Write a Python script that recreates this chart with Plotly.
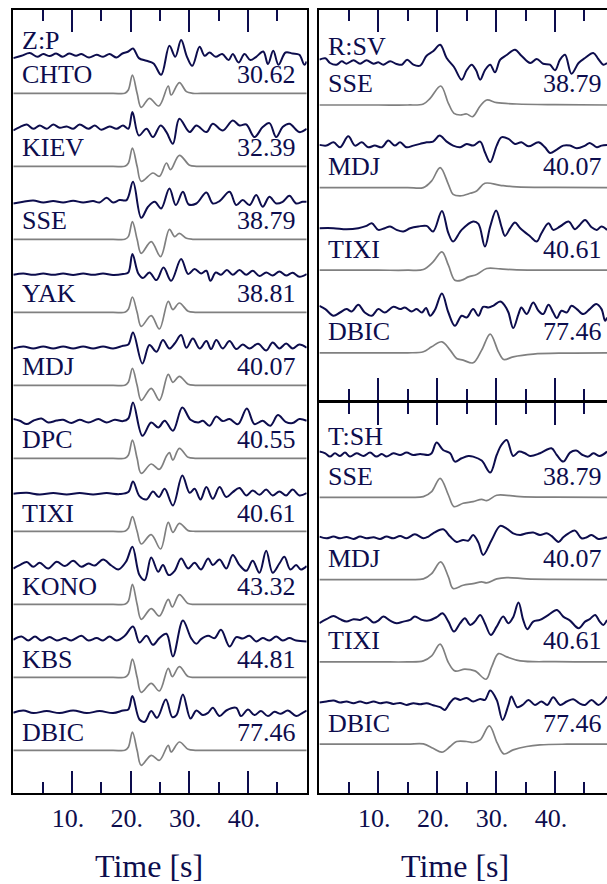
import plotly.graph_objects as go

NAVY = '#0d0d4d'
GRAY = '#808080'
FONT = 'Liberation Serif'

# ---------------- labels ----------------
stations_Z = ["CHTO", "KIEV", "SSE", "YAK", "MDJ", "DPC", "TIXI", "KONO", "KBS", "DBIC"]
dist_Z = ["30.62", "32.39", "38.79", "38.81", "40.07", "40.55", "40.61", "43.32", "44.81", "77.46"]
stations_R = ["SSE", "MDJ", "TIXI", "DBIC"]
dist_R = ["38.79", "40.07", "40.61", "77.46"]
stations_T = ["SSE", "MDJ", "TIXI", "DBIC"]
dist_T = ["38.79", "40.07", "40.61", "77.46"]
tick_vals = [10, 20, 30, 40]
tick_text = ["10.", "20.", "30.", "40."]
minor_vals = [5, 15, 25, 35, 45]

# ---------------- Z:P observed (time s, amplitude) ----------------
Z_CHTO_obs = [(0.0,-2.3),(1.4,0),(2.8,2.7),(4.1,-1),(5.1,1.7),(6.2,-0.3),(7.3,2.3),(8.4,-1),(9.5,2.3),(10.7,0),
              (11.6,1.7),(12.9,-1.7),(14.2,1),(15.3,-1),(16.4,1.7),(17.6,-1.7),(18.6,2.3),(19.6,4.3),(20.4,7.3),(21.4,-2.3),
              (22.7,-5),(23.9,-7.7),(25.2,-19),(26.6,10),(27.6,-1),(28.6,15.7),(29.6,-1),(30.5,-10),(31.75,9),(32.6,0),
              (33.45,3.3),(34.5,-1),(35.6,1.7),(36.7,-4.3),(37.4,1.7),(38.4,-6.7),(39.4,1.7),(40.4,-4.3),(41.4,-1),(42.6,4.3),
              (43.4,-8.3),(44.3,5),(45.2,-9),(46.4,3.3),(47.6,2.3),(48.75,1),(49.6,-9),(50.0,-5.7)]
Z_KIEV_obs = [(0,-1.7),(1.1,1.7),(2.3,4.3),(3.4,0),(4.5,3.3),(5.7,0),(6.8,4.3),(7.9,1),(9.1,2.3),(10.2,0),
              (11.3,4.3),(12.8,0),(13.9,3.3),(15.0,-1),(16.4,2.3),(17.6,0),(18.7,3.3),(19.6,0),(20.3,16.7),(21.4,-6.7),
              (22.7,0),(23.8,-8.3),(25.1,3.3),(26.1,-3.3),(27.2,-15),(28.3,10),(30.05,-3.3),(31.2,3.3),(32.9,-3.3),(34.0,5),
              (35.7,-1.7),(37.4,8.3),(38.55,3.3),(39.7,4.3),(41.1,-8.3),(42.5,1.7),(43.65,5.7),(44.8,-8.3),(45.9,1.7),(47.05,5),
              (48.75,-3.3),(50,0)]
Z_SSE_obs = [(0,-1.7),(1.7,0),(3.4,1.3),(5.1,-0.7),(6.8,0.7),(8.5,-0.7),(10.2,1),(11.9,-0.7),(13.6,0.7),(14.7,-0.7),
             (15.9,4),(17.0,-0.7),(18.1,1.7),(19.3,1.7),(20.4,20),(21.8,-16),(22.96,-5),(24.1,0),(25.2,-6.7),(26.6,13.3),
             (27.7,-3.3),(28.9,10),(29.9,-2.7),(31.2,-1.7),(32.9,9.3),(34.0,-1.7),(35.15,0.7),(36.85,10),(38.0,-3.3),(39.1,1.7),
             (40.25,-3.3),(41.4,6.7),(42.5,-5),(43.65,5),(44.8,-1.7),(45.9,0),(47.05,6),(48.2,-1.7),(49.3,0),(50,0)]
Z_YAK_obs = [(0,0),(1.7,1.3),(3.4,0),(5.1,1.3),(6.8,0),(8.5,1.3),(10.2,-0.3),(11.9,1.3),(13.6,0),(15.3,1.3),
             (17.0,-0.3),(18.7,0.7),(19.6,2.3),(20.3,20.7),(21.3,1.3),(22.1,-3.3),(23.2,2.3),(24.4,-5.3),(25.6,7.3),(26.9,-6),
             (28.6,15.7),(29.8,0.7),(30.9,5.7),(32.0,1.3),(32.9,4),(33.6,-6),(34.5,2.3),(35.4,0),(36.4,4.7),(37.4,0),
             (38.55,4.7),(39.7,0),(40.8,4),(41.95,-1.3),(43.1,2.3),(44.2,-0.7),(45.35,3.3),(46.5,-0.7),(47.6,2),(48.75,-2),(50,0.7)]
Z_MDJ_obs = [(0,-0.7),(1.7,1.3),(3.4,-0.7),(5.1,1.3),(6.8,-0.7),(8.5,1.3),(10.2,-0.7),(11.9,1.3),(13.6,-0.7),(15.3,1.3),
             (17.0,-0.7),(18.7,2),(19.6,3.3),(20.4,15.3),(22.0,-15.7),(23.2,2.7),(24.4,-4),(25.5,7.7),(26.6,-0.7),(27.5,4.3),
             (28.6,12.7),(29.5,0),(30.6,9.3),(31.75,-0.7),(32.9,6.7),(33.7,-1.3),(34.6,7.7),(35.7,-0.7),(36.85,6.7),(38.0,-1.3),
             (39.1,3.3),(40.25,-0.7),(41.7,4),(43.1,-2.7),(44.2,5.3),(45.35,-0.7),(46.5,4.3),(47.6,-0.7),(48.75,3.3),(50,0)]
Z_DPC_obs = [(0,1.7),(1.1,0),(2.3,-3.3),(3.4,0),(4.8,2.3),(5.95,-1.7),(7.4,0.3),(8.5,1),(9.9,-2.3),(11.3,1),
             (12.8,-1.7),(14.5,1.7),(15.9,-1.7),(17.3,1),(18.7,-0.3),(19.6,2.3),(20.4,18.3),(22.0,-15),(23.5,-1.7),(24.7,-6.7),
             (25.8,0),(27.2,-10),(28.8,13.3),(30.2,1),(31.5,-1.7),(32.3,0),(33.45,-5),(34.6,4.3),(35.7,-0.3),(36.85,1.7),
             (38.3,-3.3),(39.8,12.3),(41.1,-3.3),(42.5,0),(43.8,-5),(45.1,5.7),(46.4,-1),(47.6,-2.3),(48.75,1.7),(50,0)]
Z_TIXI_obs = [(0,0),(2.3,1),(4.5,-0.7),(6.8,0.7),(9.1,-0.7),(11.3,0.7),(13.6,-0.7),(15.9,0.7),(18.1,-0.3),(19.6,1.7),
              (20.4,12.3),(21.5,-2.3),(22.7,-5.7),(23.8,2.3),(24.8,-3.3),(25.8,5),(27.2,-11.7),(28.8,18.3),(30.05,1),(30.9,5),
              (31.9,-5.7),(32.9,6.7),(34.0,-5),(35.15,6.7),(36.3,-3.3),(37.4,1.7),(38.55,5.7),(39.7,-1.7),(40.8,3.3),(41.95,-1),
              (43.1,4.3),(44.2,-1.7),(45.35,2.3),(46.5,-1.7),(47.6,4.3),(48.75,-1.7),(50,0.7)]
Z_KONO_obs = [(0,-1.7),(1.1,1.7),(2.3,4.7),(3.4,0),(4.5,4),(5.95,-1.7),(7.4,5),(8.8,0.7),(10.2,6),(11.6,0),
              (12.8,3.3),(13.9,1.3),(15.3,7.3),(16.7,1.3),(17.9,-2.7),(19.2,5),(20.3,20),(21.5,-8.3),(22.4,-13.3),(23.5,9.3),
              (24.7,-5),(25.5,1.7),(26.5,-8.3),(27.5,-4),(28.6,8.3),(29.8,-1.7),(30.9,4),(32.0,-2.7),(33.2,8.3),(34.0,1.7),
              (35.15,7.3),(36.3,-1.7),(37.4,11.7),(38.55,1.7),(39.7,-4),(40.8,6),(41.95,-6),(43.1,16),(44.2,-6),(45.35,3.3),
              (46.2,10),(47.2,-2.7),(48.2,1.7),(49.0,-2.7),(50,0.7)]
Z_KBS_obs = [(0,0),(1.4,3.3),(2.55,-0.7),(3.7,3.3),(4.8,-0.7),(6.2,2.7),(7.4,-0.7),(8.8,1.7),(9.9,-0.7),(11.6,4),
             (12.8,-0.7),(14.2,1.7),(15.3,-0.7),(16.4,3.3),(17.6,-0.7),(19.0,4),(20.4,13.3),(21.5,-2.7),(22.7,4),(23.8,-5),
             (24.9,1.7),(26.1,6),(27.2,-16.7),(28.9,19.3),(30.3,1.7),(31.2,-4),(32.0,0.7),(33.2,4),(34.3,1.7),(35.4,10),
             (36.85,-6.7),(38.0,2.7),(39.1,1.3),(40.25,4),(41.4,-1.7),(42.5,1.7),(43.65,-0.7),(44.8,3.3),(45.9,-0.7),(47.05,1.7),
             (48.2,-0.7),(50,-1.7)]
Z_DBIC_obs = [(0,0),(1.7,2.3),(3.4,-0.3),(5.7,1.7),(7.9,-0.3),(10.2,2.3),(12.5,-0.3),(14.7,1.7),(17.0,-0.3),(18.7,2.3),
              (19.6,3.3),(20.3,16.7),(21.5,-6.7),(22.4,-9),(23.5,1.7),(24.5,-5),(26.0,13.3),(27.1,-4.3),(27.8,-2.3),(28.9,18.3),
              (30.2,-5.7),(31.2,2.3),(32.3,-2.3),(33.2,0),(34.0,5),(35.15,-3.3),(36.3,2.3),(38.0,5),(38.8,-3.3),(40.0,3.3),
              (41.1,-2.3),(42.2,1.7),(43.4,-3.3),(44.5,1),(45.6,-1),(46.8,2.3),(48.2,-3.3),(49.3,0),(50,2.3)]

# ---------------- Z:P synthetics ----------------
Z_CHTO_syn = [(0,0),(10,0),(17,0),(19.0,0),(19.6,3.3),(20.3,18.3),(21.1,0),(21.8,-14),(23.2,-5),(24.8,-12.7),
              (26.4,7.3),(26.9,-1.7),(28.3,10.7),(29.5,1.7),(30.6,0),(33,0),(40,0),(50,0)]
Z_KIEV_syn = [(0,0),(10,0),(17,0),(19.0,0),(19.6,3),(20.3,18.3),(21.1,0),(21.8,-15),(23.8,-6.7),(24.9,-10),
              (26.1,3.3),(26.8,-3.3),(28.3,11),(30.05,1),(31.2,0),(34,0),(40,0),(50,0)]
Z_SSE_syn = [(0,0),(10,0),(17,0),(19.0,0),(19.6,2.7),(20.3,17.7),(21.1,0),(21.8,-14),(23.5,-2.3),(25.1,-17.3),
             (26.6,10),(27.5,2.7),(28.3,6),(29.5,1),(30.6,0),(33,0),(40,0),(50,0)]
Z_YAK_syn = [(0,0),(10,0),(17,0),(19.0,0),(19.6,3),(20.3,15.3),(21.1,0),(21.8,-14),(23.5,-3.3),(24.9,-16.7),
             (26.4,11),(27.2,2.7),(28.3,9.3),(29.8,1),(31,0),(34,0),(40,0),(50,0)]
Z_MDJ_syn = [(0,0),(10,0),(17,0),(19.0,0),(19.6,3),(20.3,17),(21.1,0),(21.8,-15),(23.5,-3),(24.9,-15),
             (26.4,11),(27.2,3),(28.3,9),(29.8,1),(31,0),(34,0),(40,0),(50,0)]
Z_DPC_syn = [(0,0),(10,0),(17,0),(19.0,0),(19.6,3),(20.3,18.3),(21.1,0),(21.8,-15),(23.5,-5.7),(24.9,-11),
             (26.1,2.3),(26.6,5.7),(27.2,-1.7),(28.3,10),(29.8,1),(31,0),(34,0),(40,0),(50,0)]
Z_TIXI_syn = [(0,0),(10,0),(17,0),(19.0,0),(19.6,3),(20.3,14.7),(21.1,0),(21.8,-12.7),(23.5,-3.3),(25.1,-17.7),
              (26.4,9),(27.2,-1),(28.3,8),(29.8,0.7),(31,0),(34,0),(40,0),(50,0)]
Z_KONO_syn = [(0,0),(10,0),(17,0),(19.0,0),(19.6,3),(20.3,20),(21.1,0),(21.8,-15),(23.5,-4.3),(24.9,-11.7),
              (26.4,5),(27.1,-2.7),(28.3,9.7),(29.8,0.7),(31,0),(34,0),(40,0),(50,0)]
Z_KBS_syn = [(0,0),(10,0),(17,0),(19.0,0),(19.6,3),(20.3,18.3),(21.1,0),(21.8,-15),(23.5,-6),(24.9,-13.7),
             (26.4,9),(27.1,0.7),(28.3,10.7),(29.8,0.7),(31,0),(34,0),(40,0),(50,0)]
Z_DBIC_syn = [(0,0),(10,0),(17,0),(19.0,0),(19.6,3),(20.3,18.3),(21.1,0),(21.8,-15),(23.5,-5),(24.9,-10),
              (26.4,5),(26.9,-1.7),(28.3,8.3),(29.8,1),(31,0),(34,0),(40,0),(50,0)]

# ---------------- R:SV observed ----------------
R_SSE_obs = [(0,3.3),(1.0,4.7),(1.8,0),(2.9,-1.7),(3.8,1.7),(4.6,-0.7),(5.8,2.7),(6.9,-0.7),(8.0,2.7),(9.2,-0.7),
             (10.0,0.7),(10.85,-1.7),(12.0,1.7),(13.1,-1),(14.0,-1.7),(14.9,3.3),(15.95,-1.7),(17.1,-2.7),(18.2,7.3),(19.3,11.7),
             (20.5,18.3),(21.6,5),(22.85,-4),(24.15,-16.7),(25.0,-7.3),(25.85,-1.7),(26.6,-7.3),(27.3,-16.7),(28.1,-7.3),(29.0,-1.7),
             (29.8,-9.3),(30.7,3.3),(31.8,8),(33.2,13.3),(34.3,7.3),(35.8,0),(36.9,4),(38.0,-0.7),(39.15,-1.7),(40.0,-7.3),
             (40.85,3.3),(41.7,8.3),(42.8,-10.7),(44.0,0),(45.1,5),(46.5,10),(47.35,4),(48.2,-1.7),(48.83,0)]
R_MDJ_obs = [(0,0.7),(1.2,0),(2.4,3.3),(3.5,-1.7),(4.9,9.3),(6.05,0),(7.2,3.3),(8.3,-1.7),(9.4,0),(10.6,-1.7),
             (11.7,5),(12.8,0),(13.7,3.3),(14.8,-1.7),(15.95,0),(17.1,1.7),(18.2,3.3),(19.3,4),(20.4,10),(21.6,4),
             (22.7,0),(23.9,-1.7),(25.0,1.7),(26.1,0),(27.3,4),(28.1,-6.7),(29.0,-16.7),(30.1,0),(30.9,8.3),(32.1,6.7),
             (33.2,1.7),(34.3,3.3),(35.5,-0.7),(37.2,3.3),(38.3,-1.7),(39.15,-7.3),(40.3,-4),(41.4,0),(42.55,0),(43.7,-2.7),
             (45.1,0),(45.9,2.7),(47.1,-1.7),(47.9,0),(48.83,0.7)]
R_TIXI_obs = [(0,0),(2.4,0),(4.6,-1),(6.6,0),(8.0,2.3),(8.9,5),(10.0,-1.7),(11.1,0),(12.0,1.7),(13.1,-1.7),
              (14.25,-3.3),(15.4,0),(16.8,1.7),(18.2,2.3),(19.3,-3.3),(20.8,17.3),(21.9,-5),(22.7,-13.3),(24.15,-1.7),(26.1,6.7),
              (27.0,4.3),(28.1,-18.3),(29.0,1.7),(30.0,17.7),(30.9,1.7),(31.5,-7.7),(32.4,0),(33.2,5.7),(34.1,0),(35.8,-8.3),
              (36.9,-13.3),(37.7,-5),(38.9,5),(39.7,-1.7),(40.85,1.7),(42.3,6.7),(43.4,-1),(44.2,3.3),(45.1,8.3),(46.2,1),
              (47.1,-1.7),(47.9,1.7),(48.83,-1.7)]
R_DBIC_obs = [(0,5),(1,1.7),(2.4,-5),(3.5,-1.7),(4.6,1.7),(5.5,-0.7),(6.6,6),(7.7,-1.7),(8.9,-5),(10.0,1.7),
              (11.1,-1.7),(12.55,4),(13.7,1.7),(14.5,3.3),(15.65,-0.7),(16.5,1.7),(17.4,-1.7),(18.1,2.7),(18.8,-5),(19.6,0.7),
              (20.8,17.3),(21.9,-1.7),(23.0,-15),(24.15,-5),(25.0,-6.7),(26.1,1.7),(27.0,-5),(27.8,4),(28.7,3.3),(29.5,5),
              (30.7,9.3),(31.5,5),(32.1,-1.7),(32.9,-17.3),(33.8,-3.3),(34.3,3.3),(35.2,-3.3),(36.3,8.3),(37.2,0),(38.0,-3.3),
              (38.9,6),(39.7,-1.7),(40.3,-7.3),(41.1,0),(42.0,-1.7),(42.8,5),(43.7,1.7),(44.8,-3.3),(45.9,1.7),(47.0,6.7),
              (47.9,1.7),(48.5,-10),(48.83,-6.7)]

# ---------------- R:SV synthetics ----------------
R_SSE_syn = [(0,0),(10,0),(15,0),(17.65,1),(18.8,6.7),(20.6,19),(21.9,1.7),(22.85,-8.3),(23.9,-10),(25.0,-9),
             (26.0,-11.7),(27.3,-1),(28.4,5),(30.1,2.3),(33.5,1),(40,0.3),(48.83,0)]
R_MDJ_syn = [(0,0),(10,0),(15,0),(17.65,0),(19.06,6.7),(20.5,20),(21.9,3.3),(22.7,-6.7),(23.9,-8.3),(25.6,-5.7),
             (26.7,-3.3),(28.1,4.3),(30.7,2.3),(33.5,0.7),(40,0.2),(48.83,0)]
R_TIXI_syn = [(0,0),(10,0),(15,0),(17.65,0.7),(19.3,8.3),(20.8,18.3),(21.9,5),(23.0,-10),(24.15,-10),(25.3,-6.7),
              (26.7,-4.3),(28.4,1.7),(30.7,1.3),(33.5,0.3),(40,0),(48.83,0)]
R_DBIC_syn = [(0,0),(10,0),(15,0),(17.65,1),(19.06,6),(20.8,11),(22.2,2.7),(23.3,-5.7),(24.4,-7.3),(26.1,-10),
              (27.55,2.7),(29.0,18.7),(30.4,1),(31.3,-6.7),(32.9,-4),(36.3,-1.3),(42,-0.3),(48.83,0)]

# ---------------- T:SH observed ----------------
T_SSE_obs = [(0,3.7),(1,2),(1.8,-1.3),(2.65,2),(3.5,-0.7),(4.35,2.7),(5.2,-1.3),(6.3,2),(7.5,-0.7),(8.6,2.7),
             (9.7,-1.3),(10.6,1.3),(11.4,-1.3),(12.55,2),(13.7,0.3),(14.8,2.7),(15.95,0.3),(17.1,1.3),(18.5,0.3),(19.06,2),
             (19.9,12.7),(21.0,5.3),(22.2,2),(23.0,-6.3),(24.15,-3),(25.3,-0.7),(26.1,-1.3),(27.55,-5.3),(29.0,-17.3),(30.1,0.3),
             (30.9,10.3),(31.8,15.3),(32.9,-0.7),(33.9,3.7),(34.9,2),(35.8,-0.7),(37.45,2),(39.4,7),(40.3,0.3),(41.4,-6.3),
             (42.55,2.7),(43.6,4.7),(44.7,0.3),(45.65,-1.3),(46.5,2),(47.6,-0.7),(48.83,3.7)]
T_MDJ_obs = [(0,1),(1.2,-0.7),(2.4,1),(3.5,-0.7),(4.6,0.7),(5.8,-1.3),(6.9,1),(8.0,-0.7),(9.2,0.3),(10.3,-1.3),
             (11.4,1),(12.55,-0.7),(13.7,1.7),(14.8,-0.7),(16.2,3.3),(17.65,-0.7),(18.5,1),(19.3,4.3),(21.0,8.3),(22.2,1),
             (23.3,-4.3),(24.4,-2.3),(25.3,-3),(26.1,2.7),(27.0,-5),(27.8,-17.3),(29.25,-2.3),(30.7,11.7),(31.8,9),(32.9,4.3),
             (34.1,2.7),(35.2,4.3),(36.3,5),(37.45,2.7),(38.6,4.3),(39.4,1.7),(40.6,-4.3),(41.4,0.3),(42.3,4.3),(43.4,7),
             (44.5,-0.7),(45.4,0.3),(46.2,2.7),(47.35,-1.3),(48.83,0.3)]
T_TIXI_obs = [(0,-3.3),(1.2,0.7),(2.4,4),(3.5,0.7),(4.6,-1.7),(5.8,0.7),(6.9,0),(8.0,2.7),(9.2,-2.7),(10.0,-0.7),
              (10.85,3.3),(12.0,-0.7),(13.1,-3.3),(14.25,-1.7),(15.4,0),(16.2,3.3),(17.4,0),(18.5,-0.7),(19.9,2.7),(20.9,6.7),
              (21.9,-1.7),(22.85,-11.7),(23.9,-3.3),(24.7,1.7),(25.6,-5),(26.4,-1.7),(27.3,5),(28.1,-3.3),(29.1,-15),(30.1,-6.7),
              (31.2,3.3),(32.1,-3.3),(32.9,2.7),(33.8,17.3),(34.6,0),(35.3,-9.3),(36.3,-1.7),(37.45,0),(38.9,5),(40.3,10),
              (41.4,3.3),(42.55,-0.7),(44.0,-8.3),(45.1,-1.7),(45.9,0.7),(46.8,5),(47.6,-1.7),(48.2,-5),(48.83,0)]
T_DBIC_obs = [(0,-0.3),(1.2,0.7),(2.4,1.7),(3.5,-0.3),(4.6,0.7),(5.8,-1),(6.9,0.7),(8.0,-1),(9.2,0.7),(10.3,-1),
              (11.4,0),(12.55,-1.7),(13.7,-0.7),(14.8,-2.7),(15.95,-1),(17.1,-2),(18.2,-1),(19.3,-3),(20.5,-5),(21.3,-7.7),
              (22.2,-0.3),(23.0,4),(23.9,2.3),(25.0,4.3),(26.1,0.7),(27.3,3.3),(28.1,2.3),(29.0,11.7),(30.1,2.3),(31.1,-17.7),
              (32.1,-2.7),(32.6,5.7),(33.6,-5),(34.5,-2.7),(35.5,2.3),(36.6,-2.7),(37.7,0.7),(38.7,-2.7),(39.7,5),(40.85,-2.7),
              (42.0,0.7),(43.1,3),(44.1,-1),(45.1,-2.7),(46.2,2.3),(47.35,-2.7),(48.2,0.7),(48.83,5.7)]

# ---------------- T:SH synthetics ----------------
T_SSE_syn = [(0,0),(10,0),(15,0),(17.65,0.7),(19.06,5.7),(20.5,19),(21.9,2.3),(22.85,-9.3),(24.4,-6),(26.1,-4.3),
             (27.55,-2),(28.4,-3.3),(30.1,2),(31.8,2),(34.1,0.7),(40,0.2),(48.83,0)]
T_MDJ_syn = [(0,0),(10,0),(15,0),(17.65,0.7),(19.06,6),(20.6,17.7),(21.9,2.7),(22.7,-9),(24.4,-5.7),(26.1,-4),
             (27.55,-2.3),(28.4,-3.3),(30.1,0.7),(31.8,2),(35.2,0.7),(40,0.2),(48.83,0)]
T_TIXI_syn = [(0,0),(10,0),(15,0),(17.65,1),(19.06,6),(20.5,17.7),(21.9,-0.7),(23.0,-9),(24.7,-7.3),(26.4,-9),
              (28.3,-17.3),(29.25,-5),(30.4,8.3),(31.8,5),(34.1,1),(40,0.2),(48.83,0)]
T_DBIC_syn = [(0,0),(10,0),(15,0),(17.65,0.3),(19.3,-4),(20.8,-8),(22.2,-2.3),(23.3,2.7),(25.0,2.7),(26.1,1.7),
              (27.3,4.3),(28.85,18.3),(30.2,1),(31.3,-9.7),(32.9,-5.7),(35.2,-2.3),(37.45,-0.7),(42,0),(48.83,0)]

Z_obs = [Z_CHTO_obs, Z_KIEV_obs, Z_SSE_obs, Z_YAK_obs, Z_MDJ_obs, Z_DPC_obs, Z_TIXI_obs, Z_KONO_obs, Z_KBS_obs, Z_DBIC_obs]
Z_syn = [Z_CHTO_syn, Z_KIEV_syn, Z_SSE_syn, Z_YAK_syn, Z_MDJ_syn, Z_DPC_syn, Z_TIXI_syn, Z_KONO_syn, Z_KBS_syn, Z_DBIC_syn]
R_obs = [R_SSE_obs, R_MDJ_obs, R_TIXI_obs, R_DBIC_obs]
R_syn = [R_SSE_syn, R_MDJ_syn, R_TIXI_syn, R_DBIC_syn]
T_obs = [T_SSE_obs, T_MDJ_obs, T_TIXI_obs, T_DBIC_obs]
T_syn = [T_SSE_syn, T_MDJ_syn, T_TIXI_syn, T_DBIC_syn]

# ---------------- geometry (pixels of a 607x884 canvas) ----------------
W, H = 607, 884
PX_LEFT = (13.3, 306.7)
PX_RIGHT = (319.4, 607.0)
TOP, BOT = 10.0, 793.0
MID_UP, MID_DN = 400.2, 403.2
X_RANGE_L = [0, 50]
X_RANGE_R = [0, (607.0 - 319.4) / 5.89]


def xd(px):
    return [px[0] / W, px[1] / W]


def yd(top, bot):
    return [1 - bot / H, 1 - top / H]


fig = go.Figure()


def add_trace_pair(obs, syn, base_syn, off, xa, ya):
    t = [p[0] for p in obs]
    a = [p[1] for p in obs]
    fig.add_trace(go.Scatter(x=t, y=[base_syn - off - v for v in a], mode='lines', xaxis=xa, yaxis=ya,
                             line=dict(color=NAVY, width=2, shape='spline', smoothing=1.0), hoverinfo='skip'))
    t2 = [p[0] for p in syn]
    a2 = [p[1] for p in syn]
    fig.add_trace(go.Scatter(x=t2, y=[base_syn - v for v in a2], mode='lines', xaxis=xa, yaxis=ya,
                             line=dict(color=GRAY, width=1.7, shape='spline', smoothing=1.0), hoverinfo='skip'))


annotations = []
LABEL_SIZE = 26


def label(text, x, y, xref, yref, anchor):
    annotations.append(dict(text=text, x=x, y=y, xref=xref, yref=yref, xanchor=anchor, yanchor='middle',
                            showarrow=False, font=dict(family=FONT, size=LABEL_SIZE, color=NAVY)))


# left panel Z:P
for i in range(10):
    gb = 93.3 + 73.0 * i
    add_trace_pair(Z_obs[i], Z_syn[i], gb, 37.5, 'x', 'y')
    label(stations_Z[i], 1.1, gb - 18.3, 'x', 'y', 'left')
    label(dist_Z[i], 48.45, gb - 18.3, 'x', 'y', 'right')
label("Z:P", 1.1, 40.3, 'x', 'y', 'left')

# right top R:SV
for j in range(4):
    gb = 105.0 + 82.6 * j
    add_trace_pair(R_obs[j], R_syn[j], gb, 42.0, 'x2', 'y2')
    label(stations_R[j], 1.1, gb - 21, 'x2', 'y2', 'left')
    label(dist_R[j], 48.35, gb - 21, 'x2', 'y2', 'right')
label("R:SV", 1.1, 46.3, 'x2', 'y2', 'left')

# right bottom T:SH
for j in range(4):
    gb = 497.3 + 82.3 * j
    add_trace_pair(T_obs[j], T_syn[j], gb, 42.0, 'x3', 'y3')
    label(stations_T[j], 1.1, gb - 21, 'x3', 'y3', 'left')
    label(dist_T[j], 48.35, gb - 21, 'x3', 'y3', 'right')
label("T:SH", 1.1, 436.7, 'x3', 'y3', 'left')

# axis titles
for xc in (149.0, 454.5):
    annotations.append(dict(text="Time [s]", x=xc / W, y=1 - 866.0 / H, xref='paper', yref='paper',
                            xanchor='center', yanchor='middle', showarrow=False,
                            font=dict(family=FONT, size=32, color=NAVY)))


def xaxis(domain, rng, anchor, labels):
    return dict(domain=domain, range=rng, anchor=anchor, showgrid=False, zeroline=False,
                showline=True, linecolor='black', linewidth=2, mirror='ticks',
                ticks='inside', ticklen=22, tickwidth=2, tickcolor=NAVY,
                tickmode='array', tickvals=tick_vals, ticktext=tick_text,
                showticklabels=labels, ticklabelstandoff=1, ticklabelshift=-4,
                tickfont=dict(family=FONT, size=26, color=NAVY),
                minor=dict(tickmode='array', tickvals=minor_vals, ticks='inside', ticklen=11,
                           tickwidth=2, tickcolor=NAVY, showgrid=False))


def yaxis(domain, rng, anchor, mirror):
    return dict(domain=domain, range=rng, anchor=anchor, showgrid=False, zeroline=False,
                showline=True, linecolor='black', linewidth=2, mirror=mirror,
                ticks='', showticklabels=False)


fig.update_layout(
    width=W, height=H, autosize=False,
    margin=dict(l=0, r=0, t=0, b=0, pad=0),
    paper_bgcolor='white', plot_bgcolor='white', showlegend=False,
    font=dict(family=FONT, color=NAVY, size=25),
    xaxis=xaxis(xd(PX_LEFT), X_RANGE_L, 'y', True),
    yaxis=yaxis(yd(TOP, BOT), [BOT, TOP], 'x', True),
    xaxis2=xaxis(xd(PX_RIGHT), X_RANGE_R, 'y2', False),
    yaxis2=yaxis(yd(TOP, MID_UP), [MID_UP, TOP], 'x2', False),
    xaxis3=xaxis(xd(PX_RIGHT), X_RANGE_R, 'y3', True),
    yaxis3=yaxis(yd(MID_DN, BOT), [BOT, MID_DN], 'x3', False),
    annotations=annotations,
)

fig.write_html("out.html", config={'displayModeBar': False, 'staticPlot': True},
               post_script="document.body.style.margin='0';document.body.style.padding='0';document.body.style.overflow='hidden';")
